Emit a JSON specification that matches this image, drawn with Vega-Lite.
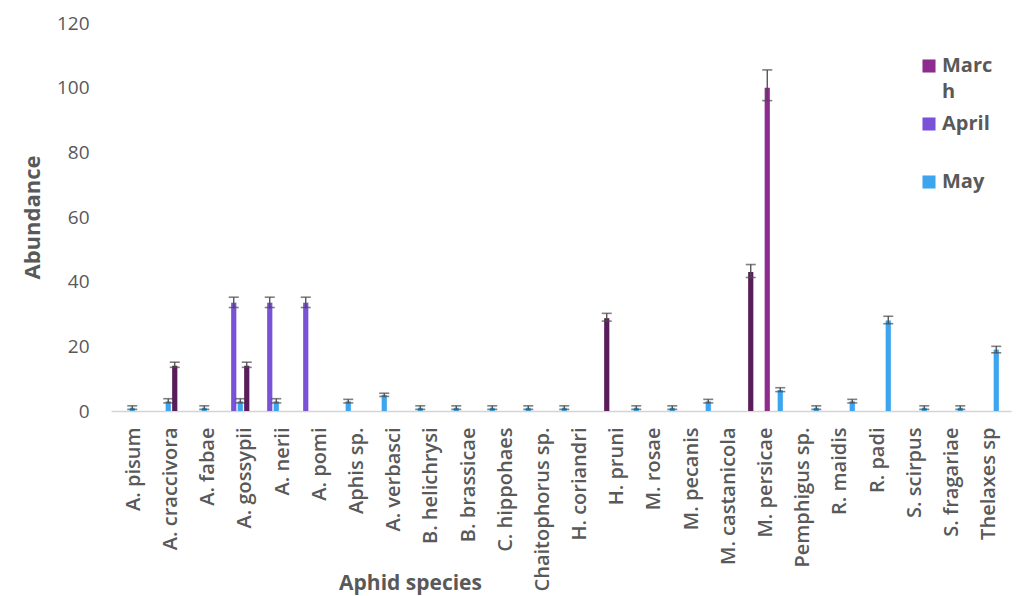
{
  "$schema": "https://vega.github.io/schema/vega-lite/v6.json",
  "width": 900,
  "height": 388,
  "autosize": "none",
  "padding": {"left": 111, "top": 23, "right": 9, "bottom": 185},
  "background": "white",
  "config": {
    "view": {"stroke": null},
    "font": "Open Sans",
    "axis": {"labelFont": "Open Sans", "titleFont": "Open Sans", "labelColor": "#595959", "titleColor": "#595959"},
    "legend": {"labelFont": "Open Sans"}
  },
  "datasets": {
    "light": [
      {"species": "A. pisum", "month": "May", "value": 1, "lo": 0.5, "hi": 1.6},
      {"species": "A. craccivora", "month": "May", "value": 3, "lo": 2.5, "hi": 3.8},
      {"species": "A. fabae", "month": "May", "value": 1, "lo": 0.5, "hi": 1.6},
      {"species": "A. gossypii", "month": "April", "value": 33.5, "lo": 32, "hi": 35.2},
      {"species": "A. gossypii", "month": "May", "value": 3, "lo": 2.5, "hi": 3.8},
      {"species": "A. nerii", "month": "April", "value": 33.5, "lo": 32, "hi": 35.2},
      {"species": "A. nerii", "month": "May", "value": 3, "lo": 2.5, "hi": 3.8},
      {"species": "A. pomi", "month": "April", "value": 33.5, "lo": 32, "hi": 35.2},
      {"species": "Aphis sp.", "month": "May", "value": 3, "lo": 2.5, "hi": 3.6},
      {"species": "A. verbasci", "month": "May", "value": 5, "lo": 4.5, "hi": 5.5},
      {"species": "B. helichrysi", "month": "May", "value": 1, "lo": 0.5, "hi": 1.6},
      {"species": "B. brassicae", "month": "May", "value": 1, "lo": 0.5, "hi": 1.6},
      {"species": "C. hippohaes", "month": "May", "value": 1, "lo": 0.5, "hi": 1.6},
      {"species": "Chaitophorus sp.", "month": "May", "value": 1, "lo": 0.5, "hi": 1.6},
      {"species": "H. coriandri", "month": "May", "value": 1, "lo": 0.5, "hi": 1.6},
      {"species": "M. rosae", "month": "May", "value": 1, "lo": 0.5, "hi": 1.6},
      {"species": "M. pecanis", "month": "May", "value": 1, "lo": 0.5, "hi": 1.6},
      {"species": "M. castanicola", "month": "May", "value": 3, "lo": 2.5, "hi": 3.6},
      {"species": "M. persicae", "month": "March", "value": 100, "lo": 96, "hi": 105.5},
      {"species": "M. persicae", "month": "May", "value": 6.5, "lo": 6, "hi": 7.2},
      {"species": "Pemphigus sp.", "month": "May", "value": 1, "lo": 0.5, "hi": 1.6},
      {"species": "R. maidis", "month": "May", "value": 3, "lo": 2.5, "hi": 3.6},
      {"species": "R. padi", "month": "May", "value": 28, "lo": 27, "hi": 29.3},
      {"species": "S. scirpus", "month": "May", "value": 1, "lo": 0.5, "hi": 1.6},
      {"species": "S. fragariae", "month": "May", "value": 1, "lo": 0.5, "hi": 1.6},
      {"species": "Thelaxes sp.", "month": "May", "value": 19, "lo": 18, "hi": 20}
    ],
    "dark": [
      {"species": "A. craccivora", "month": "June", "value": 14, "lo": 13.5, "hi": 15.1},
      {"species": "A. gossypii", "month": "June", "value": 14, "lo": 13.5, "hi": 15.1},
      {"species": "H. pruni", "month": "June", "value": 28.7, "lo": 27.8, "hi": 30.2},
      {"species": "M. persicae", "month": "June", "value": 43, "lo": 41.3, "hi": 45.3}
    ],
    "names": [
      {"species": "A. pisum"}, {"species": "A. craccivora"}, {"species": "A. fabae"}, {"species": "A. gossypii"},
      {"species": "A. nerii"}, {"species": "A. pomi"}, {"species": "Aphis sp."}, {"species": "A. verbasci"},
      {"species": "B. helichrysi"}, {"species": "B. brassicae"}, {"species": "C. hippohaes"}, {"species": "Chaitophorus sp."},
      {"species": "H. coriandri"}, {"species": "H. pruni"}, {"species": "M. rosae"}, {"species": "M. pecanis"},
      {"species": "M. castanicola"}, {"species": "M. persicae"}, {"species": "Pemphigus sp."}, {"species": "R. maidis"},
      {"species": "R. padi"}, {"species": "S. scirpus"}, {"species": "S. fragariae"}, {"species": "Thelaxes sp"}
    ]
  },
  "layer": [
    {
      "data": {"name": "light"},
      "encoding": {
        "x": {
          "field": "species", "type": "nominal", "axis": null,
          "scale": {
            "domain": ["A. pisum", "A. craccivora", "A. fabae", "A. gossypii", "A. nerii", "A. pomi", "Aphis sp.", "A. verbasci", "B. helichrysi", "B. brassicae", "C. hippohaes", "Chaitophorus sp.", "H. coriandri", "H. pruni", "M. rosae", "M. pecanis", "M. castanicola", " ", "M. persicae", "Pemphigus sp.", "R. maidis", "R. padi", "S. scirpus", "S. fragariae", "Thelaxes sp."],
            "paddingInner": 0, "paddingOuter": 0
          }
        },
        "xOffset": {"field": "month", "type": "nominal", "scale": {"domain": ["March", "April", "May", "June"], "paddingInner": 0.2, "paddingOuter": 0.87}}
      },
      "layer": [
        {
          "mark": {"type": "bar"},
          "encoding": {
            "y": {
              "field": "value", "type": "quantitative",
              "scale": {"domain": [0, 120]},
              "axis": {"values": [0, 20, 40, 60, 80, 100, 120], "grid": false, "domain": false, "ticks": false, "labelPadding": 22, "labelFontSize": 19, "labelColor": "#595959", "title": "Abundance", "titleFontSize": 22, "titleFontWeight": "bold", "titleColor": "#595959", "titlePadding": 12}
            },
            "color": {
              "field": "month", "type": "nominal",
              "scale": {"domain": ["March", "April", "May", "June"], "range": ["#8E2B8F", "#7A52D8", "#3DA5EE", "#5A1D5C"]},
              "legend": {
                "values": ["March", "April", "May"], "title": null, "orient": "none", "legendX": 808, "legendY": 33,
                "symbolType": "square", "symbolSize": 170, "symbolStrokeWidth": 0, "symbolOpacity": 1,
                "labelFontSize": 20, "labelFontWeight": "bold", "labelColor": "#595959", "labelOffset": 3,
                "gridAlign": "all", "rowPadding": 12, "labelExpr": "datum.label == 'March' ? ['Marc', 'h'] : datum.label",
                "encode": {"labels": {"update": {"lineHeight": {"value": 26}}}}
              }
            }
          }
        },
        {
          "mark": {"type": "rule", "color": "#4a4a4a", "strokeWidth": 1.3},
          "encoding": {"y": {"field": "lo", "type": "quantitative"}, "y2": {"field": "hi"}}
        },
        {
          "mark": {"type": "tick", "color": "#4a4a4a", "size": 10, "thickness": 1.6},
          "encoding": {"y": {"field": "hi", "type": "quantitative"}}
        },
        {
          "mark": {"type": "tick", "color": "#4a4a4a", "size": 10, "thickness": 1.6},
          "encoding": {"y": {"field": "lo", "type": "quantitative"}}
        }
      ]
    },
    {
      "data": {"name": "dark"},
      "encoding": {
        "x": {
          "field": "species", "type": "nominal", "axis": null,
          "scale": {
            "domain": ["A. pisum", "A. craccivora", "A. fabae", "A. gossypii", "A. nerii", "A. pomi", "Aphis sp.", "A. verbasci", "B. helichrysi", "B. brassicae", "C. hippohaes", "Chaitophorus sp.", "H. coriandri", "H. pruni", "M. rosae", "M. pecanis", "M. castanicola", "M. persicae", " ", "Pemphigus sp.", "R. maidis", "R. padi", "S. scirpus", "S. fragariae", "Thelaxes sp."],
            "paddingInner": 0, "paddingOuter": 0
          }
        },
        "xOffset": {"field": "month", "type": "nominal", "scale": {"domain": ["March", "April", "May", "June"], "paddingInner": 0.2, "paddingOuter": 0.87}}
      },
      "layer": [
        {
          "mark": {"type": "bar"},
          "encoding": {
            "y": {"field": "value", "type": "quantitative"},
            "color": {"field": "month", "type": "nominal"}
          }
        },
        {
          "mark": {"type": "rule", "color": "#4a4a4a", "strokeWidth": 1.3},
          "encoding": {"y": {"field": "lo", "type": "quantitative"}, "y2": {"field": "hi"}}
        },
        {
          "mark": {"type": "tick", "color": "#4a4a4a", "size": 10, "thickness": 1.6},
          "encoding": {"y": {"field": "hi", "type": "quantitative"}}
        },
        {
          "mark": {"type": "tick", "color": "#4a4a4a", "size": 10, "thickness": 1.6},
          "encoding": {"y": {"field": "lo", "type": "quantitative"}}
        }
      ]
    },
    {
      "data": {"name": "names"},
      "mark": {"type": "point", "opacity": 0},
      "encoding": {
        "x": {
          "field": "species", "type": "nominal", "sort": null,
          "scale": {"type": "point", "padding": 0.6},
          "axis": {"orient": "bottom", "labelAngle": -90, "labelFontSize": 20, "labelFontWeight": 600, "labelColor": "#595959", "labelPadding": 16, "ticks": false, "domain": true, "domainColor": "#d4d4d4", "domainWidth": 1.5, "labelLimit": 200, "title": "Aphid species", "titleFontSize": 21, "titleFontWeight": "bold", "titleColor": "#595959", "titleX": 299, "titleY": 172, "titleAlign": "center", "titleBaseline": "middle", "titleAnchor": null}
        }
      }
    }
  ],
  "resolve": {"scale": {"x": "independent"}}
}
